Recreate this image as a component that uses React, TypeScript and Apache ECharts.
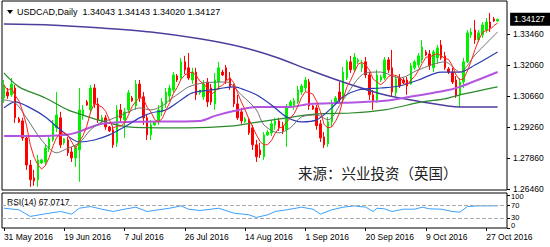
import React, { useEffect, useRef } from 'react';
import * as echarts from 'echarts';

const symbolName = 'USDCAD';
const timeframe = 'Daily';
const watermark = '来源：兴业投资（英国）';

// [open, high, low, close] per daily bar (6-day broker week), 31 May 2016 .. 31 Oct 2016
const candles: number[][] = [
  [1.3057, 1.3138, 1.3035, 1.3116], [1.3084, 1.3102, 1.3053, 1.3066], [1.3071, 1.3147, 1.3062, 1.3120],
  [1.3102, 1.3116, 1.2944, 1.2967], [1.2962, 1.2971, 1.2944, 1.2949], [1.2953, 1.2967, 1.2863, 1.2876],
  [1.2876, 1.2890, 1.2732, 1.2754], [1.2754, 1.2777, 1.2655, 1.2687], [1.2696, 1.2732, 1.2660, 1.2682],
  [1.2687, 1.2800, 1.2655, 1.2777], [1.2763, 1.2782, 1.2759, 1.2777], [1.2768, 1.2845, 1.2754, 1.2831],
  [1.2827, 1.2885, 1.2813, 1.2872], [1.2867, 1.2958, 1.2858, 1.2935], [1.2922, 1.3084, 1.2903, 1.2980],
  [1.2967, 1.2994, 1.2831, 1.2845], [1.2854, 1.2876, 1.2845, 1.2872], [1.2867, 1.2881, 1.2795, 1.2809],
  [1.2813, 1.2836, 1.2768, 1.2786], [1.2786, 1.2845, 1.2745, 1.2831], [1.2822, 1.3102, 1.2678, 1.3003],
  [1.2976, 1.3025, 1.2958, 1.3003], [1.3039, 1.3048, 1.3021, 1.3025], [1.3003, 1.3116, 1.2985, 1.3102],
  [1.3102, 1.3120, 1.3012, 1.3030], [1.3030, 1.3057, 1.2944, 1.2958], [1.2949, 1.2980, 1.2940, 1.2967],
  [1.2967, 1.2980, 1.2913, 1.2926], [1.2926, 1.2931, 1.2903, 1.2908], [1.2913, 1.2931, 1.2831, 1.2845],
  [1.2854, 1.3025, 1.2836, 1.3003], [1.3003, 1.3030, 1.2949, 1.2967], [1.2958, 1.3012, 1.2876, 1.2994],
  [1.3003, 1.3093, 1.2989, 1.3080], [1.3057, 1.3066, 1.3039, 1.3044], [1.3021, 1.3138, 1.3003, 1.3120],
  [1.3120, 1.3138, 1.3039, 1.3057], [1.3062, 1.3084, 1.2935, 1.2967], [1.2967, 1.2985, 1.2867, 1.2890],
  [1.2890, 1.2958, 1.2867, 1.2935], [1.2935, 1.2953, 1.2931, 1.2949], [1.2949, 1.3025, 1.2935, 1.3003],
  [1.2994, 1.3057, 1.2976, 1.3039], [1.3030, 1.3102, 1.3012, 1.3084], [1.3066, 1.3116, 1.3039, 1.3102],
  [1.3093, 1.3174, 1.3080, 1.3161], [1.3156, 1.3165, 1.3129, 1.3138], [1.3147, 1.3238, 1.3138, 1.3220],
  [1.3220, 1.3247, 1.3165, 1.3184], [1.3193, 1.3260, 1.3138, 1.3147], [1.3138, 1.3193, 1.3120, 1.3174],
  [1.3174, 1.3193, 1.3048, 1.3071], [1.3080, 1.3093, 1.3071, 1.3093], [1.3062, 1.3138, 1.3048, 1.3120],
  [1.3129, 1.3147, 1.3016, 1.3039], [1.3102, 1.3120, 1.3025, 1.3039], [1.3030, 1.3170, 1.3003, 1.3138],
  [1.3129, 1.3220, 1.3093, 1.3193], [1.3174, 1.3184, 1.3156, 1.3161], [1.3193, 1.3206, 1.3120, 1.3138],
  [1.3147, 1.3174, 1.3093, 1.3107], [1.3111, 1.3120, 1.3016, 1.3030], [1.3030, 1.3071, 1.2958, 1.2967],
  [1.2994, 1.3012, 1.2940, 1.2953], [1.2949, 1.2971, 1.2944, 1.2962], [1.2958, 1.2967, 1.2890, 1.2899],
  [1.2922, 1.2935, 1.2822, 1.2845], [1.2845, 1.2867, 1.2768, 1.2791], [1.2822, 1.2854, 1.2786, 1.2800],
  [1.2791, 1.2903, 1.2777, 1.2890], [1.2890, 1.2913, 1.2885, 1.2903], [1.2899, 1.2958, 1.2885, 1.2940],
  [1.2935, 1.2967, 1.2913, 1.2953], [1.2953, 1.2967, 1.2908, 1.2922], [1.2931, 1.2949, 1.2894, 1.2908],
  [1.2913, 1.3030, 1.2836, 1.3012], [1.3021, 1.3048, 1.3012, 1.3039], [1.3021, 1.3057, 1.3003, 1.3044],
  [1.3039, 1.3111, 1.3030, 1.3093], [1.3084, 1.3120, 1.3071, 1.3111], [1.3102, 1.3152, 1.3084, 1.3138],
  [1.3129, 1.3143, 1.3003, 1.3021], [1.3021, 1.3025, 1.3003, 1.3007], [1.3012, 1.3025, 1.2913, 1.2931],
  [1.2940, 1.2958, 1.2858, 1.2876], [1.2881, 1.2903, 1.2831, 1.2845], [1.2849, 1.2971, 1.2836, 1.2949],
  [1.2949, 1.3048, 1.2926, 1.3030], [1.3039, 1.3066, 1.3035, 1.3057], [1.3084, 1.3129, 1.3035, 1.3048],
  [1.3048, 1.3197, 1.3035, 1.3174], [1.3147, 1.3229, 1.3138, 1.3220], [1.3220, 1.3247, 1.3170, 1.3184],
  [1.3184, 1.3260, 1.3174, 1.3242], [1.3220, 1.3238, 1.3211, 1.3229], [1.3193, 1.3229, 1.3174, 1.3211],
  [1.3220, 1.3242, 1.3147, 1.3161], [1.3161, 1.3174, 1.3048, 1.3071], [1.3071, 1.3093, 1.3003, 1.3039],
  [1.3048, 1.3184, 1.3035, 1.3161], [1.3138, 1.3161, 1.3129, 1.3152], [1.3147, 1.3242, 1.3138, 1.3229],
  [1.3229, 1.3242, 1.3170, 1.3184], [1.3193, 1.3274, 1.3062, 1.3084], [1.3080, 1.3161, 1.3066, 1.3143],
  [1.3147, 1.3165, 1.3102, 1.3111], [1.3138, 1.3147, 1.3120, 1.3125], [1.3138, 1.3152, 1.3071, 1.3111],
  [1.3120, 1.3215, 1.3116, 1.3202], [1.3193, 1.3229, 1.3184, 1.3220], [1.3206, 1.3260, 1.3193, 1.3247],
  [1.3229, 1.3319, 1.3215, 1.3287], [1.3265, 1.3274, 1.3247, 1.3251], [1.3256, 1.3274, 1.3184, 1.3202],
  [1.3193, 1.3274, 1.3174, 1.3265], [1.3238, 1.3296, 1.3211, 1.3283], [1.3296, 1.3319, 1.3229, 1.3238],
  [1.3247, 1.3265, 1.3184, 1.3193], [1.3188, 1.3197, 1.3165, 1.3174], [1.3174, 1.3193, 1.3120, 1.3129],
  [1.3138, 1.3156, 1.3057, 1.3066], [1.3071, 1.3147, 1.3016, 1.3129], [1.3129, 1.3238, 1.3102, 1.3220],
  [1.3220, 1.3364, 1.3215, 1.3351], [1.3342, 1.3373, 1.3328, 1.3355], [1.3364, 1.3409, 1.3301, 1.3319],
  [1.3319, 1.3364, 1.3310, 1.3351], [1.3342, 1.3400, 1.3328, 1.3387], [1.3364, 1.3418, 1.3351, 1.3400],
  [1.3400, 1.3441, 1.3355, 1.3373], [1.3414, 1.3423, 1.3400, 1.3405], [1.34043, 1.34143, 1.34020, 1.34127],
];

const dateTickLabels = [
  '31 May 2016', '19 Jun 2016', '7 Jul 2016', '26 Jul 2016', '14 Aug 2016',
  '1 Sep 2016', '20 Sep 2016', '9 Oct 2016', '27 Oct 2016',
];
const barsPerDateLabel = 16;

const priceTicks = [1.2646, 1.2786, 1.2926, 1.3066, 1.3206, 1.3346];
const rsiTicks = [0, 30, 70, 100];
const rsiLevels = [70, 30];
const rsiLast = 67.0717;

// moving-average lines: [bar index, price]
const ma200Line = [
  [0, 1.3391], [12, 1.3387], [26, 1.3373], [39, 1.3355], [52, 1.3324], [63, 1.3287], [72, 1.3242],
  [81, 1.3184], [90, 1.3129], [101, 1.3071], [111, 1.3039], [121, 1.3016], [131, 1.3016],
];
const ma100Line = [
  [0, 1.3170], [4, 1.3107], [11, 1.3057], [17, 1.3003], [20, 1.2985], [26, 1.2953], [33, 1.2926],
  [42, 1.2922], [49, 1.2922], [61, 1.2931], [66, 1.2944], [75, 1.2967], [83, 1.2985], [92, 1.2989],
  [101, 1.3003], [111, 1.3039], [117, 1.3053], [121, 1.3071], [131, 1.3107],
];
const ma50Line = [
  [0, 1.2885], [10, 1.2885], [16, 1.2890], [19, 1.2899], [26, 1.2940], [34, 1.2949], [52, 1.2953],
  [56, 1.2976], [61, 1.2998], [67, 1.3016], [76, 1.3016], [81, 1.3030], [90, 1.3035], [101, 1.3044],
  [109, 1.3066], [117, 1.3089], [121, 1.3107], [131, 1.3174],
];
const ma20Line = [
  [0, 1.3012], [3, 1.3039], [7, 1.3012], [11, 1.2971], [15, 1.2913], [20, 1.2858], [24, 1.2867],
  [28, 1.2890], [32, 1.2926], [36, 1.2967], [39, 1.2989], [43, 1.3003], [47, 1.3048], [50, 1.3080],
  [55, 1.3093], [61, 1.3107], [64, 1.3093], [67, 1.3071], [71, 1.3025], [75, 1.2971], [79, 1.2949],
  [83, 1.2958], [87, 1.3012], [90, 1.3062], [94, 1.3093], [100, 1.3102], [105, 1.3111], [110, 1.3138],
  [116, 1.3174], [121, 1.3174], [125, 1.3206], [131, 1.3265],
];
const ma10Line = [
  [0, 1.3048], [3, 1.3035], [6, 1.2967], [10, 1.2867], [14, 1.2809], [16, 1.2822], [20, 1.2854],
  [23, 1.2913], [26, 1.2949], [28, 1.2958], [33, 1.2994], [36, 1.3012], [39, 1.3003], [42, 1.3021],
  [44, 1.3048], [47, 1.3084], [49, 1.3107], [53, 1.3125], [59, 1.3129], [63, 1.3071], [67, 1.3003],
  [69, 1.2935], [73, 1.2899], [76, 1.2922], [79, 1.2971], [83, 1.2980], [86, 1.2958], [90, 1.3048],
  [96, 1.3170], [100, 1.3174], [105, 1.3147], [110, 1.3184], [117, 1.3220], [121, 1.3174],
  [125, 1.3251], [131, 1.3355],
];
const rsiLine = [
  [0, 60], [4, 55], [7, 35], [11, 43], [15, 50], [18, 42], [20, 60], [23, 65], [26, 57], [29, 50],
  [32, 57], [35, 63], [38, 50], [41, 55], [44, 60], [47, 67], [49, 57], [52, 53], [55, 57], [57, 60],
  [61, 45], [65, 40], [67, 32], [70, 40], [72, 50], [75, 55], [79, 63], [82, 57], [84, 42], [87, 55],
  [90, 63], [93, 67], [96, 63], [98, 50], [99, 60], [101, 58], [103, 50], [106, 57], [109, 57],
  [111, 63], [113, 58], [116, 57], [119, 50], [121, 48], [123, 65], [126, 67], [130, 67], [131, rsiLast],
];

const FONT = '"Liberation Sans", Arial, sans-serif';

export default function App() {
  const ref = useRef<HTMLDivElement>(null);

  useEffect(() => {
    const chart = echarts.init(ref.current!, null, { renderer: 'svg' });
    const cats = Array.from({ length: candles.length + 2 }, (_, i) => String(i));
    const ma5 = candles.map((_, i) => {
      const s = Math.max(0, i - 4);
      let sum = 0;
      for (let k = s; k <= i; k++) sum += candles[k][3];
      return [i, sum / (i - s + 1)];
    });
    const last = candles[candles.length - 1];
    const header = `${symbolName},${timeframe}  ${last.map((v) => v.toFixed(5)).join(' ')}`;
    const isDateTick = (i: number) => i % barsPerDateLabel === 0 && i / barsPerDateLabel < dateTickLabels.length;

    const maSeries = (data: number[][], color: string, width: number, smooth: number | boolean) => ({
      type: 'line',
      xAxisIndex: 0,
      yAxisIndex: 0,
      data,
      symbol: 'none',
      smooth,
      z: 3,
      silent: true,
      lineStyle: { color, width },
    });

    const staticGraphic: any[] = [
      { type: 'polygon', shape: { points: [[7, 10], [13, 10], [10, 14]] }, style: { fill: '#000' } },
      {
        type: 'text', x: 17, y: 12,
        style: { text: header, fontSize: 9, fontFamily: FONT, fill: '#000', verticalAlign: 'middle' },
      },
      {
        type: 'text', x: 7, y: 202,
        style: { text: `RSI(14) ${rsiLast.toFixed(4)}`, fontSize: 8.5, fontFamily: FONT, fill: '#000', verticalAlign: 'middle' },
      },
      {
        type: 'text', x: 298, y: 172,
        style: { text: watermark, fontSize: 14.5, fontFamily: '"Noto Sans CJK SC", sans-serif', fill: '#222', verticalAlign: 'middle' },
      },
    ];

    chart.setOption({
      animation: false,
      backgroundColor: '#fff',
      textStyle: { fontFamily: FONT },
      grid: [
        { left: 2, top: 1, width: 505, height: 189, show: true, borderColor: '#000', borderWidth: 1 },
        { left: 2, top: 193, width: 505, height: 35, show: true, borderColor: '#000', borderWidth: 1 },
      ],
      xAxis: [
        {
          type: 'category', gridIndex: 0, data: cats,
          axisLabel: { show: false }, axisTick: { show: false }, axisLine: { show: false }, splitLine: { show: false },
        },
        {
          type: 'category', gridIndex: 1, data: cats,
          axisLine: { show: false },
          splitLine: { show: false },
          axisTick: {
            show: true, alignWithLabel: true, length: 3,
            interval: (i: number) => isDateTick(i),
            lineStyle: { color: '#000' },
          },
          axisLabel: {
            interval: (i: number) => isDateTick(i),
            formatter: (_v: string, i: number) => dateTickLabels[i / barsPerDateLabel] || '',
            align: 'left', margin: 4, fontSize: 8.5, color: '#000', fontFamily: FONT,
          },
        },
      ],
      yAxis: [
        {
          type: 'value', gridIndex: 0, position: 'right', min: 1.2641, max: 1.3495,
          splitLine: { show: false }, axisLine: { show: false },
          axisTick: { show: true, customValues: priceTicks, length: 3, lineStyle: { color: '#000' } },
          axisLabel: {
            customValues: priceTicks, formatter: (v: number) => v.toFixed(5),
            fontSize: 8.5, color: '#000', margin: 6, fontFamily: FONT,
            showMinLabel: true, showMaxLabel: true,
          },
        },
        {
          type: 'value', gridIndex: 1, position: 'right', min: 0, max: 106,
          splitLine: { show: false }, axisLine: { show: false },
          axisTick: { show: true, customValues: rsiTicks, length: 3, lineStyle: { color: '#000' } },
          axisLabel: { show: false },
        },
      ],
      series: [
        {
          type: 'candlestick',
          xAxisIndex: 0,
          yAxisIndex: 0,
          data: candles.map(([o, h, l, c]) => [o, c, l, h]),
          barWidth: 2,
          z: 2,
          itemStyle: {
            color: '#00f000', color0: '#ff0000',
            borderColor: '#00f000', borderColor0: '#ff0000', borderWidth: 1,
          },
        },
        maSeries(ma200Line, '#4c3e9c', 1.5, 0.3),
        maSeries(ma100Line, '#2a8a2a', 1.2, 0.3),
        maSeries(ma50Line, '#b455e0', 2, 0.3),
        maSeries(ma20Line, '#2b3bb5', 1.2, 0.3),
        maSeries(ma10Line, '#707070', 1, 0.3),
        maSeries(ma5, '#ff2020', 1, false),
        {
          type: 'line',
          xAxisIndex: 1,
          yAxisIndex: 1,
          data: rsiLine,
          symbol: 'none',
          silent: true,
          lineStyle: { color: '#3aa0ff', width: 1 },
          markLine: {
            silent: true, symbol: 'none',
            label: { show: false },
            lineStyle: { color: '#aaaaaa', type: 'dashed', width: 1 },
            data: rsiLevels.map((v) => ({ yAxis: v })),
          },
        },
      ],
      graphic: staticGraphic,
    });

    // current-price tag and RSI scale labels, placed through the axis scales
    const tagY = chart.convertToPixel({ yAxisIndex: 0 }, last[3]) as number;
    const rightX = chart.convertToPixel({ xAxisIndex: 0 }, cats[cats.length - 1]) as number;
    const rsiShift = (v: number) => (v === 100 ? 2 : v === 70 ? 1 : v === 30 ? -1 : -2.5);
    const rsiLabels = rsiTicks.map((v) => ({
      type: 'text',
      x: rightX + 6,
      y: (chart.convertToPixel({ yAxisIndex: 1 }, v) as number) + rsiShift(v),
      style: { text: String(v), fontSize: 7.5, fontFamily: FONT, fill: '#000', verticalAlign: 'middle' },
    }));
    chart.setOption({
      graphic: [
        ...staticGraphic,
        ...rsiLabels,
        {
          type: 'group',
          x: rightX + 5,
          y: tagY,
          children: [
            { type: 'rect', shape: { x: 0, y: -6.5, width: 40, height: 13 }, style: { fill: '#000' } },
            {
              type: 'text', x: 4, y: 0,
              style: { text: last[3].toFixed(5), fontSize: 8.5, fontFamily: FONT, fill: '#fff', verticalAlign: 'middle' },
            },
          ],
        },
      ],
    });

    return () => chart.dispose();
  }, []);

  return (
    <div
      ref={ref}
      style={{ position: 'fixed', left: 0, top: 0, width: 550, height: 247, background: '#fff' }}
    />
  );
}
